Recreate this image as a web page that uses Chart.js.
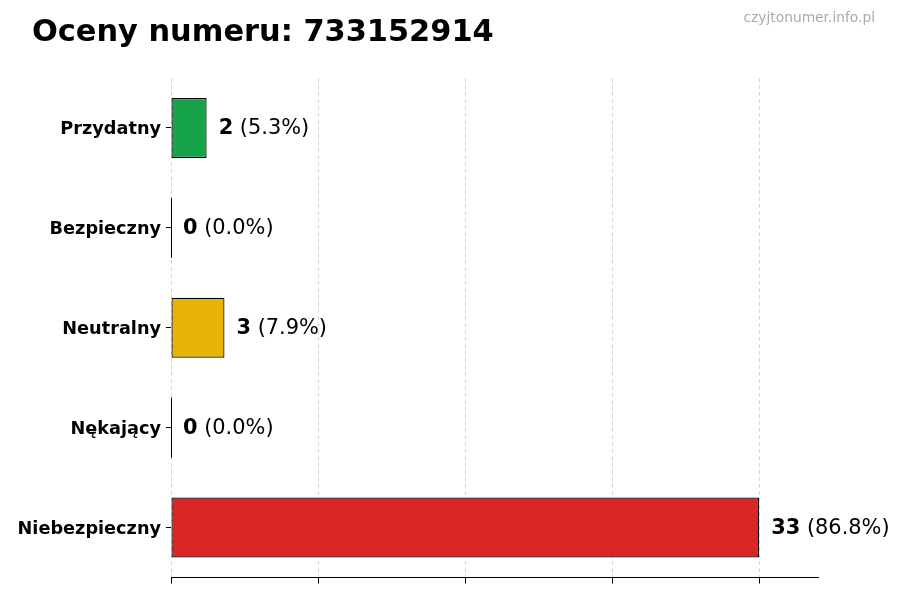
<!DOCTYPE html>
<html>
<head>
<meta charset="utf-8">
<script src="https://cdn.jsdelivr.net/npm/chart.js@4/dist/chart.umd.min.js"></script>
<style>
  html, body { margin: 0; padding: 0; background: #fff; }
  #wrap { width: 900px; height: 600px; }
</style>
</head>
<body>
<div id="wrap"><canvas id="chart" width="900" height="600"></canvas></div>
<script>
// data
const categories = ['Przydatny', 'Bezpieczny', 'Neutralny', 'Nękający', 'Niebezpieczny'];
const counts = [2, 0, 3, 0, 33];
const percents = ['5.3%', '0.0%', '7.9%', '0.0%', '86.8%'];
const barColors = ['#16a34a', '#16a34a', '#eab308', '#dc2626', '#dc2626'];
const xTicks = [0, 8.25, 16.5, 24.75, 33];
const xMax = 36.3;
const titleText = 'Oceny numeru: 733152914';
const watermark = 'czyjtonumer.info.pl';

const FONT = '"DejaVu Sans", sans-serif';

// title + watermark
const headerPlugin = {
  id: 'header',
  afterDraw(chart) {
    const ctx = chart.ctx;
    ctx.save();
    ctx.fillStyle = '#000';
    ctx.font = 'bold 30.4px ' + FONT;
    ctx.textAlign = 'left';
    ctx.textBaseline = 'alphabetic';
    ctx.fillText(titleText, 32, 41);
    ctx.fillStyle = '#aaaaaa';
    ctx.font = '13.8px ' + FONT;
    ctx.textAlign = 'right';
    ctx.fillText(watermark, 875, 22);
    ctx.restore();
  }
};

// value labels next to the bars, plus the outline of zero-width bars
const labelPlugin = {
  id: 'barLabels',
  afterDraw(chart) {
    const ctx = chart.ctx;
    const meta = chart.getDatasetMeta(0);
    ctx.save();
    meta.data.forEach((bar, i) => {
      const h = bar.height;
      if (counts[i] === 0) {
        ctx.strokeStyle = '#000';
        ctx.lineWidth = 1;
        ctx.beginPath();
        ctx.moveTo(Math.round(bar.base) + 0.5, bar.y - h / 2);
        ctx.lineTo(Math.round(bar.base) + 0.5, bar.y + h / 2);
        ctx.stroke();
      }
      let x = bar.x + 12;
      ctx.textBaseline = 'middle';
      ctx.textAlign = 'left';
      ctx.fillStyle = '#000';
      ctx.font = 'bold 20.9px ' + FONT;
      const v = String(counts[i]);
      ctx.fillText(v, x, bar.y + 1);
      x += ctx.measureText(v).width;
      ctx.font = '20.9px ' + FONT;
      ctx.fillText(' (' + percents[i] + ')', x, bar.y + 1);
    });
    ctx.restore();
  }
};

new Chart(document.getElementById('chart'), {
  type: 'bar',
  data: {
    labels: categories,
    datasets: [{
      data: counts,
      backgroundColor: barColors,
      borderColor: '#000',
      borderWidth: 1.2,
      borderSkipped: false,
      barPercentage: 0.6,
      categoryPercentage: 1.0
    }]
  },
  options: {
    indexAxis: 'y',
    responsive: false,
    animation: false,
    devicePixelRatio: 1,
    layout: { padding: { top: 78, right: 82, bottom: 0, left: 0 } },
    plugins: {
      legend: { display: false },
      tooltip: { enabled: false },
      title: { display: false }
    },
    scales: {
      x: {
        min: 0,
        max: xMax,
        z: 1,
        afterBuildTicks: (scale) => { scale.ticks = xTicks.map(v => ({ value: v })); },
        afterFit: (scale) => { scale.height = 22.5; },
        ticks: { display: false },
        grid: {
          color: '#d6d6d6',
          lineWidth: 1,
          drawTicks: true,
          tickLength: 6,
          tickColor: '#000',
          tickWidth: 1
        },
        border: { display: true, color: '#000', width: 1, dash: [4, 3] }
      },
      y: {
        afterFit: (scale) => { scale.width = 171; },
        ticks: {
          color: '#000',
          font: { family: FONT, size: 17.7, weight: 'bold' },
          padding: 5,
          labelOffset: 1.5
        },
        grid: {
          offset: false,
          drawOnChartArea: false,
          drawTicks: true,
          tickLength: 5,
          tickColor: '#000',
          tickWidth: 1
        },
        border: { display: false }
      }
    }
  },
  plugins: [headerPlugin, labelPlugin]
});
</script>
</body>
</html>
